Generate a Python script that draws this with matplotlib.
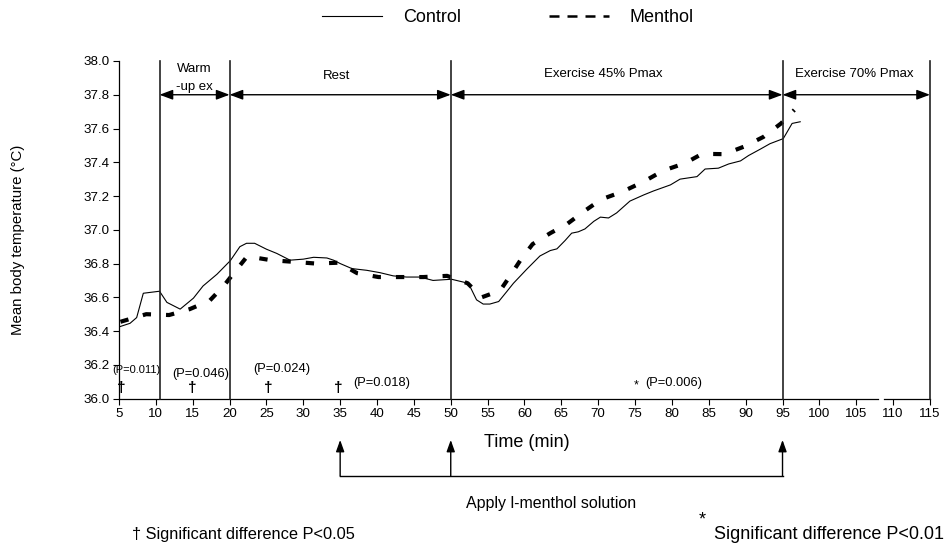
import matplotlib
matplotlib.use('Agg')
import matplotlib.pyplot as plt
from matplotlib.lines import Line2D

plt.rcParams['font.family'] = ['Liberation Sans', 'DejaVu Sans']

# control (solid line)
ctrl_t = [5.1, 6.5, 7.4, 8.3, 10.5, 11.5, 13.3, 15.1, 16.4, 18.3, 20.1, 21.4, 22.3, 23.4, 25.0,
          26.4, 28.2, 30.0, 31.4, 33.2, 34.1, 35.0, 36.6, 38.6, 40.4, 42.2, 44.0, 45.8, 47.6, 50.1,
          52.4, 53.5, 54.4, 55.3, 56.5, 57.6, 58.5, 60.3, 62.1, 63.5, 64.4, 65.5, 66.4, 67.3, 68.2,
          69.4, 70.3, 71.4, 72.5, 74.3, 76.2, 77.5, 79.8, 81.1, 83.4, 84.5, 86.3, 87.7, 89.3, 90.4,
          92.0, 93.3, 95.1, 96.3, 97.4]
ctrl_temp = [36.426, 36.446, 36.48, 36.624, 36.636, 36.57, 36.53, 36.595, 36.667, 36.737, 36.817,
             36.90, 36.92, 36.92, 36.885, 36.86, 36.82, 36.826, 36.837, 36.833, 36.82, 36.80, 36.77,
             36.76, 36.746, 36.727, 36.72, 36.72, 36.70, 36.707, 36.683, 36.585, 36.56, 36.56, 36.575,
             36.634, 36.683, 36.766, 36.845, 36.877, 36.887, 36.936, 36.98, 36.988, 37.005, 37.05,
             37.075, 37.07, 37.10, 37.17, 37.207, 37.23, 37.266, 37.30, 37.315, 37.36, 37.365, 37.39,
             37.408, 37.44, 37.478, 37.51, 37.54, 37.63, 37.64]

# menthol (dashed line)
menth_t = [5.2, 8.7, 11.8, 14.6, 17.3, 19.2, 20.8, 22.4, 25.6, 28.7, 31.7, 34.8, 37.3, 40.2, 43.3,
           46.3, 49.5, 52.3, 54.2, 56.7, 58.1, 59.5, 61.1, 63.5, 65.8, 68.1, 70.4, 73.3, 76.2, 78.8,
           81.8, 84.1, 87.1, 89.8, 92.4, 94.8, 96.6]
menth_temp = [36.455, 36.50, 36.495, 36.53, 36.58, 36.667, 36.756, 36.843, 36.82, 36.81, 36.80,
              36.805, 36.743, 36.72, 36.72, 36.72, 36.727, 36.683, 36.60, 36.64, 36.73, 36.823,
              36.915, 36.98, 37.035, 37.11, 37.18, 37.226, 37.286, 37.35, 37.395, 37.45, 37.448,
              37.493, 37.55, 37.63, 37.71]

phase_edges = [10.5, 20, 50, 95, 115]
phase_names = ['Warm\n-up ex', 'Rest', 'Exercise 45% Pmax', 'Exercise 70% Pmax']
menthol_times = [35, 50, 95]

p_labels = ['(P=0.011)', '(P=0.046)', '(P=0.024)', '(P=0.018)', '(P=0.006)']
p_x = [7.4, 16.1, 27.1, 40.7, 80.2]
p_y = [36.17, 36.145, 36.175, 36.09, 36.09]
p_size = [8, 9.3, 9.3, 9.3, 9.3]
dagger_x = [5.35, 14.95, 25.2, 34.7]
star_x = [75.1]

fig = plt.figure(figsize=(9.45, 5.44), dpi=100)
ax = fig.add_axes([0.1259, 0.2673, 0.8582, 0.6206])

ax.plot(ctrl_t, ctrl_temp, color='black', lw=0.8)
ax.plot(menth_t, menth_temp, color='black', lw=3, ls=(0, (2, 3.6)), dash_capstyle='butt')

ax.set_xlim(5, 115)
ax.set_ylim(36.0, 38.0)
ax.set_xticks(range(5, 116, 5))
ax.set_yticks([36.0 + 0.2 * i for i in range(11)])
ax.set_yticklabels(['%.1f' % (36.0 + 0.2 * i) for i in range(11)])
ax.tick_params(direction='out', length=4, width=0.8, labelsize=9.6, pad=3)
for s in ['top', 'right', 'bottom']:
    ax.spines[s].set_visible(False)
ax.spines['left'].set_linewidth(0.9)

# broken bottom axis
ax.plot([5, 108.0], [36.0, 36.0], color='black', lw=0.9, clip_on=False)
ax.plot([108.7, 115], [36.0, 36.0], color='black', lw=0.9, clip_on=False)

# phase separators and arrows
for x in phase_edges:
    ax.plot([x, x], [36.0, 38.0], color='#222222', lw=1.2, clip_on=False)
for i, name in enumerate(phase_names):
    a, b = phase_edges[i], phase_edges[i + 1]
    ax.annotate('', xy=(b, 37.8), xytext=(a, 37.8), annotation_clip=False,
                arrowprops=dict(arrowstyle='<|-|>,head_length=0.8,head_width=0.3',
                                color='black', lw=1, shrinkA=0, shrinkB=0))
ax.text(15.25, 37.955, 'Warm', ha='center', va='center', fontsize=9.5)
ax.text(15.25, 37.845, '-up ex', ha='center', va='center', fontsize=9.5)
ax.text(34.5, 37.91, 'Rest', ha='center', va='center', fontsize=9.5)
ax.text(70.7, 37.92, 'Exercise 45% Pmax', ha='center', va='center', fontsize=9.5)
ax.text(104.7, 37.92, 'Exercise 70% Pmax', ha='center', va='center', fontsize=9.5)

# significance marks
for lab, x, y, s in zip(p_labels, p_x, p_y, p_size):
    ax.text(x, y, lab, ha='center', va='center', fontsize=s)
for x in dagger_x:
    ax.text(x, 36.06, '\u2020', ha='center', va='center', fontsize=11, fontweight='bold')
for x in star_x:
    ax.text(x, 36.075, '*', ha='center', va='center', fontsize=9)

# menthol application arrows
base_y = 35.541
ax.plot([menthol_times[0], menthol_times[-1]], [base_y, base_y], color='black', lw=1, clip_on=False)
for x in menthol_times:
    ax.annotate('', xy=(x, 35.755), xytext=(x, base_y), annotation_clip=False,
                arrowprops=dict(arrowstyle='-|>,head_length=0.7,head_width=0.25',
                                color='black', lw=1, shrinkA=0, shrinkB=0))
ax.text(63.6, 35.381, 'Apply l-menthol solution', ha='center', va='center', fontsize=11.5)

ax.set_xlabel('Time (min)', fontsize=13)
ax.xaxis.label.set_verticalalignment('center')
ax.xaxis.set_label_coords(0.503, -0.1286)
ax.set_ylabel('Mean body temperature (\u00b0C)', fontsize=10.8)
ax.yaxis.label.set_verticalalignment('center')
ax.yaxis.set_label_coords(-0.1245, 0.47)

# legend
h_ctrl = Line2D([], [], color='black', lw=0.8)
h_menth = Line2D([], [], color='black', lw=1.8, ls=(0, (4, 3.2)), dash_capstyle='butt')
fig.legend([h_ctrl, h_menth], ['Control', 'Menthol'], loc='center', ncol=2, frameon=False,
           bbox_to_anchor=(0.5376, 0.967), fontsize=13, handlelength=3.3,
           handletextpad=1.17, columnspacing=4.9)

fig.text(132 / 945, 0.017, '\u2020 Significant difference P<0.05', ha='left', va='center', fontsize=11.8)
fig.text(944 / 945, 0.017, 'Significant difference P<0.01', ha='right', va='center', fontsize=13)
fig.text(702 / 945, 0.045, '*', ha='center', va='center', fontsize=13)

fig.savefig('out.png', dpi=100)
